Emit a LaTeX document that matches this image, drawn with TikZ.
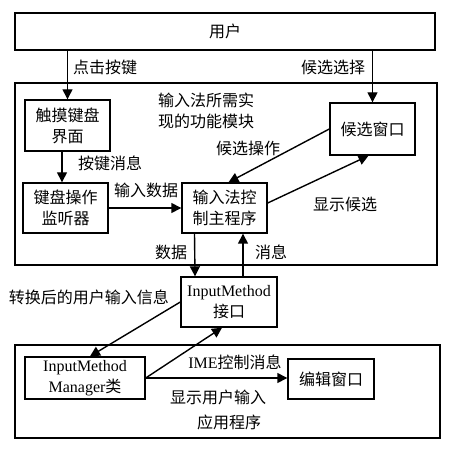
\documentclass[tikz,border=0pt]{standalone}
\usepackage{fontspec}
\setmainfont{Liberation Serif}
\newfontfamily\cjk{Noto Sans CJK SC}
\usetikzlibrary{arrows.meta,positioning}

\begin{document}
\begin{tikzpicture}[x=1pt,y=-1pt,
    box/.style={draw,line width=1.4pt,inner sep=0pt,align=center},
    lbl/.style={font=\cjk\fontsize{16}{21}\selectfont,inner sep=1pt,align=left}]
      \useasboundingbox (0,0) rectangle (460,454);
      % outer frames
      \begin{scope}[every node/.style={box,font=\cjk\fontsize{16}{21}\selectfont}]
        \node (user)[minimum width=420pt,minimum height=37pt] at (225,31.5) {用户};
        \node (mod)[minimum width=422pt,minimum height=182pt] at (226,174) {};
        \node (app)[minimum width=425pt,minimum height=93pt] at (227.5,391.5) {};
      \end{scope}
      % inner boxes
      \begin{scope}[every node/.style={box,font=\cjk\fontsize{16}{21}\selectfont}]
        \node (touch)[minimum width=85pt,minimum height=51pt] at (67.5,125.5) {触摸键盘\\界面};
        \node (cand)[minimum width=85pt,minimum height=52pt] at (372.5,129) {候选窗口};
        \node (listen)[minimum width=85pt,minimum height=50pt] at (65.5,208) {键盘操作\\监听器};
        \node (ctrl)[minimum width=85pt,minimum height=50pt] at (224.5,208) {输入法控\\制主程序};
        \node (edit)[minimum width=86pt,minimum height=40pt] at (331,379) {编辑窗口};
      \end{scope}
      \begin{scope}[every node/.style={box,font=\fontsize{16}{21}\selectfont}]
        \node (imi)[minimum width=96pt,minimum height=50pt] at (229,302) {InputMethod\\{\cjk 接口}};
        \node (imm)[minimum width=120pt,minimum height=42pt] at (85,378) {InputMethod\\Manager{\cjk 类}};
      \end{scope}
      % connectors
      \begin{scope}
        [every edge/.style={draw=black,line width=1.4pt,-{Triangle[length=10pt,width=10pt]}}]
        \path (user.south -| touch) edge (touch.north);
        \path (user.south -| cand) edge (cand.north);
        \path ([xshift=-5.5pt]touch.south) edge ([xshift=-3.5pt]listen.north);
        \path (listen.east) edge (ctrl.west);
        \path (cand.west) edge ([xshift=4pt]ctrl.north);
        \path ([yshift=5pt]ctrl.east) edge ([xshift=-4pt]cand.south);
        \path ([xshift=-30pt]ctrl.south) edge ([xshift=-34pt]imi.north);
        \path ([xshift=14pt]imi.north) edge ([xshift=18.5pt]ctrl.south);
        \path (imi.west) edge ([xshift=5pt]imm.north);
        \path (imm.east) edge ([xshift=-7pt]imi.south);
        \path (imm.east) edge (imm.east -| edit.west);
      \end{scope}
      % labels
      \begin{scope}[every node/.style={lbl}]
        \node (click) at (105,67) {点击按键};
        \node (choose) at (333,67) {候选选择};
        \node (modname) at (206,111) {输入法所需实\\现的功能模块};
        \node (candop) at (248,148) {候选操作};
        \node (keymsg) at (110,163) {按键消息};
        \node (indata) at (146,190) {输入数据};
        \node (showcand) at (345,204) {显示候选};
        \node (data) at (171,252) {数据};
        \node (msg) at (271,252) {消息};
        \node (conv) at (89,297) {转换后的用户输入信息};
        \node (showin) at (218,397) {显示用户输入};
        \node (appname) at (229,422) {应用程序};
        \node (ime)[font=\fontsize{16}{20}\selectfont] at (235,362) {IME{\cjk 控制消息}};
      \end{scope}
    \end{tikzpicture}
\end{document}
